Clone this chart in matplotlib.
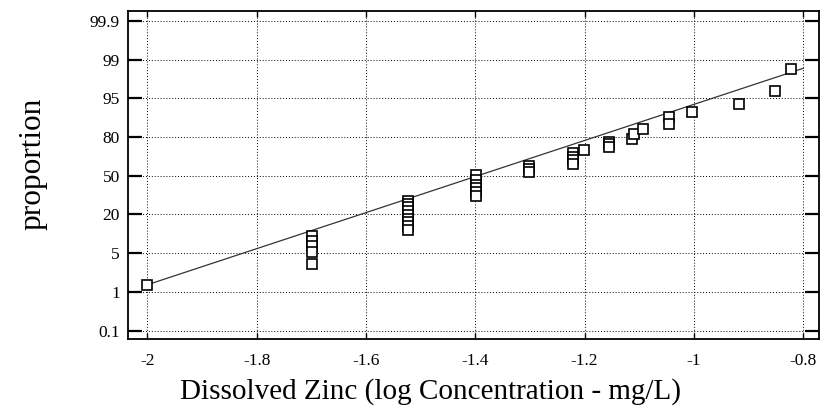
import numpy as np
import matplotlib
matplotlib.use('Agg')
import matplotlib.pyplot as plt

plt.rcParams['font.family'] = ['Liberation Serif', 'DejaVu Serif']

# probability axis levels (percent) and their labels
probLevels = [0.1, 1, 5, 20, 50, 80, 95, 99, 99.9]
probLabels = ['0.1', '1', '5', '20', '50', '80', '95', '99', '99.9']
xTicks = [-2, -1.8, -1.6, -1.4, -1.2, -1, -0.8]
xTickLabels = ['-2', '-1.8', '-1.6', '-1.4', '-1.2', '-1', '-0.8']

# log concentration (mg/L) and cumulative proportion (%)
logConc = [-2.0,
           -1.699, -1.699, -1.699, -1.699, -1.699,
           -1.523, -1.523, -1.523, -1.523, -1.523, -1.523, -1.523, -1.523, -1.523,
           -1.398, -1.398, -1.398, -1.398, -1.398, -1.398,
           -1.301, -1.301, -1.301,
           -1.222, -1.222, -1.222, -1.222,
           -1.201,
           -1.155, -1.155, -1.155,
           -1.114, -1.109, -1.094,
           -1.046, -1.046,
           -1.004, -0.917, -0.852, -0.823]
proportion = [1.7,
              11.6, 9.7, 7.7, 5.4, 3.9,
              30.4, 28.1, 25.7, 22.6, 19.8, 18.2, 17.1, 15.5, 14.0,
              50.9, 46.7, 42.8, 40.5, 37.4, 33.9,
              57.5, 55.2, 52.9,
              67.6, 64.5, 62.2, 59.1,
              69.9,
              76.1, 74.2, 72.3,
              78.2, 81.1, 83.1,
              87.9, 85.0,
              89.8, 92.9, 95.8, 98.0]

# fitted line end points
fitX = [-2.0, -0.8]
fitP = [1.73, 98.1]

# evenly spaced probability axis
extLevels = [0.0] + probLevels + [100.0]
extIdx = np.arange(-1, len(probLevels) + 1)

def fwd(p):
    return np.interp(p, extLevels, extIdx)

def inv(i):
    return np.interp(i, extIdx, extLevels)

fig = plt.figure(figsize=(8.21, 4.17), dpi=100)
ax = fig.add_axes([0.156, 0.187, 0.8416, 0.7866])
ax.set_yscale('function', functions=(fwd, inv))

ax.plot(fitX, fitP, color='#333333', lw=0.9, zorder=2)
ax.plot(logConc, proportion, ls='none', marker='s', ms=7.5, mfc='white',
        mec='black', mew=1.2, zorder=3)

ax.set_xlim(-2.0353, -0.771)
ax.set_ylim(inv(-0.22), inv(8.256))

ax.set_xticks(xTicks)
ax.set_xticklabels(xTickLabels)
ax.set_yticks(probLevels)
ax.set_yticklabels(probLabels)
ax.yaxis.set_minor_locator(matplotlib.ticker.NullLocator())

ax.grid(True, color='black', linestyle=(0, (1, 2)), linewidth=0.7)
ax.tick_params(axis='y', direction='in', length=10, width=1.6, right=True,
               labelsize=12.5, pad=6)
ax.tick_params(axis='x', direction='in', length=4, width=1.0, top=True,
               labelsize=12.5, pad=10)
for s in ax.spines.values():
    s.set_linewidth(1.3)

ax.set_xlabel('Dissolved Zinc (log Concentration - mg/L)', fontsize=21)
ax.set_ylabel('proportion', fontsize=22.5)
ax.xaxis.set_label_coords(0.437, -0.119)
ax.yaxis.set_label_coords(-0.117, 0.535)

plt.savefig('out.png', dpi=100)
plt.close(fig)
